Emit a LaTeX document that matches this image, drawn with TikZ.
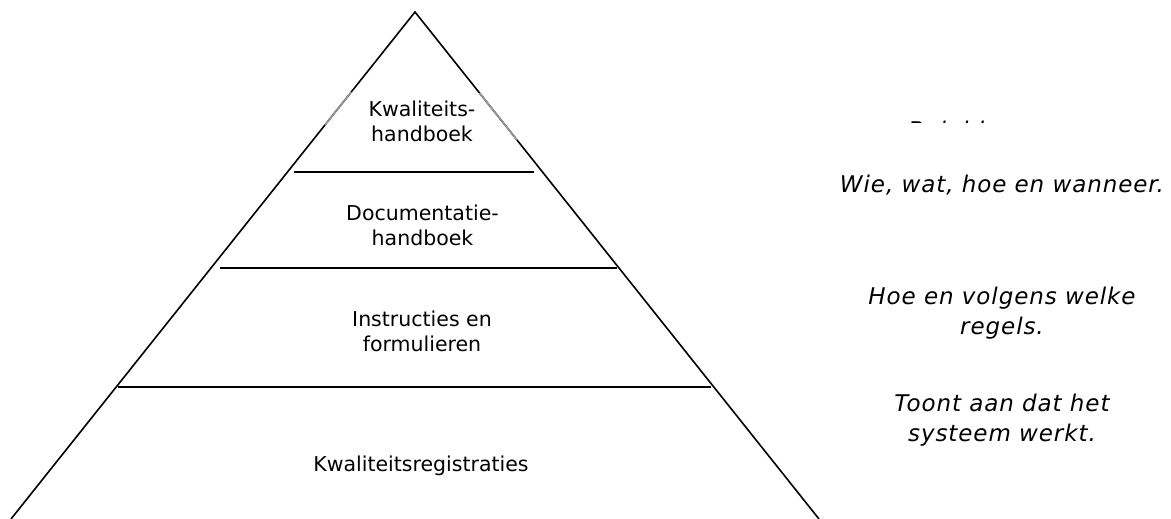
\documentclass[tikz,border=0pt]{standalone}
\usepackage{fontspec}
\setmainfont{DejaVu Sans}
\newfontfamily\notefont[LetterSpace=4]{DejaVu Sans}
\begin{document}
\begin{tikzpicture}[x=1pt,y=-1pt,
  side/.style={line width=1.6pt,black},
  level/.style={line width=1.8pt,black},
  fade/.style={line width=1.6pt,gray!80},
  inner/.style={font=\fontsize{20.5}{25}\selectfont,align=center,inner sep=0pt,anchor=base},
  note/.style={font=\notefont\itshape\fontsize{23}{30}\selectfont,align=center,inner sep=0pt,anchor=base}]
\useasboundingbox (0,0) rectangle (1171,519);
\clip (0,0) rectangle (1171,519);
% triangle
\coordinate (apex) at (415,12);
\coordinate (bl) at (11,519);
\coordinate (br) at (819,519);
\draw[side] (bl) -- (apex) -- (br);
% faded segments
\coordinate (fl1) at (351.2,92);
\coordinate (fl2) at (325,125);
\coordinate (fr1) at (479.6,93);
\coordinate (fr2) at (517,140);
\draw[fade] (fl1) -- (fl2);
\draw[fade] (fr1) -- (fr2);
% level lines
\coordinate (l1a) at (294,172); \coordinate (l1b) at (534,172);
\coordinate (l2a) at (220,268); \coordinate (l2b) at (617,268);
\coordinate (l3a) at (118,387); \coordinate (l3b) at (711,387);
\draw[level] (l1a) -- (l1b);
\draw[level] (l2a) -- (l2b);
\draw[level] (l3a) -- (l3b);
% labels (anchor = baseline of last line)
\node[inner] (t1) at (422,141.7) {Kwaliteits-\\handboek};
\node[inner] (t2) at (422.5,245) {Documentatie-\\handboek};
\node[inner] (t3) at (422,351.7) {Instructies en\\formulieren};
\node[inner] (t4) at (421,471.7) {Kwaliteitsregistraties};
% notes
\begin{scope}
\clip (850,118.5) rectangle (1100,122);
\node[note] (n0) at (950,138.5) {Beleid.};
\end{scope}
\node[note] (n1) at (1002,192.7) {Wie, wat, hoe en wanneer.};
\node[note] (n2) at (1002,334) {Hoe en volgens welke\\regels.};
\node[note] (n3) at (1002,441.7) {Toont aan dat het\\systeem werkt.};
\end{tikzpicture}
\end{document}
